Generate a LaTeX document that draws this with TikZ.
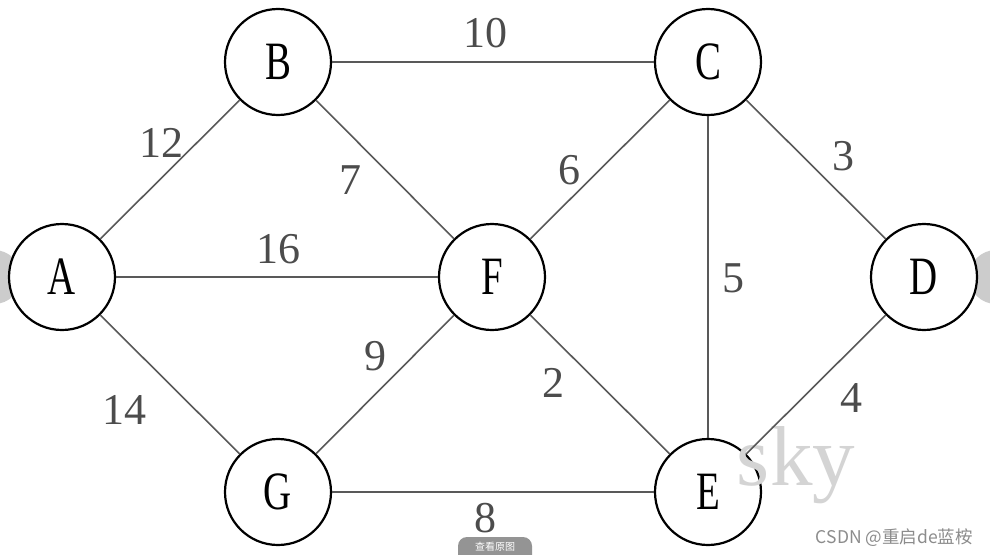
\documentclass[tikz,border=0pt]{standalone}
\usepackage{fontspec}
\setmainfont{Liberation Serif}
\newfontfamily\cjk{Noto Sans CJK SC}
\begin{document}
\begin{tikzpicture}[x=1pt,y=-1pt,
  vertex/.style={circle,draw=black,line width=2.2pt,minimum size=106pt,inner sep=0pt,fill=white,
    font=\fontsize{54}{54}\selectfont},
  edge/.style={draw=black!65,line width=1.6pt},
  wlabel/.style={font=\fontsize{44}{44}\selectfont,text=black!70,inner sep=0pt}]
\useasboundingbox (0,0) rectangle (990,554);
\fill[white] (0,0) rectangle (990,554);
% carousel half circles
\fill[black!20] (-6,277) circle (27pt);
\fill[black!20] (996,277) circle (27pt);
\coordinate (pA) at (62,277);
\coordinate (pB) at (278,62);
\coordinate (pC) at (708,62);
\coordinate (pD) at (924,277);
\coordinate (pE) at (708,492);
\coordinate (pF) at (492,277);
\coordinate (pG) at (278,492);
\node[vertex] (A) at (pA) {\scalebox{0.72}[1]{A}};
\node[vertex] (B) at (pB) {\scalebox{0.72}[1]{B}};
\node[vertex] (C) at (pC) {\scalebox{0.72}[1]{C}};
\node[vertex] (D) at (pD) {\scalebox{0.72}[1]{D}};
\node[vertex] (E) at (pE) {\scalebox{0.72}[1]{E}};
\node[vertex] (F) at (pF) {\scalebox{0.72}[1]{F}};
\node[vertex] (G) at (pG) {\scalebox{0.72}[1]{G}};
% watermark
\node[font=\fontsize{85}{85}\selectfont,text=black!17,anchor=base,inner sep=0pt] (sky) at (796,485) {sky};
\draw[edge] (A) -- (B);
\draw[edge] (A) -- (F);
\draw[edge] (A) -- (G);
\draw[edge] (B) -- (C);
\draw[edge] (B) -- (F);
\draw[edge] (C) -- (F);
\draw[edge] (C) -- (D);
\draw[edge] (C) -- (E);
\draw[edge] (D) -- (E);
\draw[edge] (F) -- (E);
\draw[edge] (G) -- (F);
\draw[edge] (G) -- (E);
% weights
\node[wlabel] (w10) at (485,33) {10};
\node[wlabel] (w12) at (161,143) {12};
\node[wlabel] (w7) at (350,180) {7};
\node[wlabel] (w6) at (569,170) {6};
\node[wlabel] (w3) at (843,156) {3};
\node[wlabel] (w16) at (278,249) {16};
\node[wlabel] (w5) at (733,278) {5};
\node[wlabel] (w9) at (375,356) {9};
\node[wlabel] (w2) at (553,383) {2};
\node[wlabel] (w4) at (851,398) {4};
\node[wlabel] (w14) at (124,410) {14};
\node[wlabel] (w8) at (485,518) {8};
% pill button
\fill[black!42,rounded corners=9pt] (458,537) rectangle (532,564);
\node[font=\cjk\fontsize{10}{10}\selectfont,text=white,inner sep=0pt] (btn) at (495,547) {查看原图};
% credit
\node[font=\cjk\fontsize{17.5}{17.5}\selectfont,text=black!45,anchor=base east,inner sep=0pt] (credit) at (973,543) {CSDN @重启de蓝桉};
\end{tikzpicture}
\end{document}
